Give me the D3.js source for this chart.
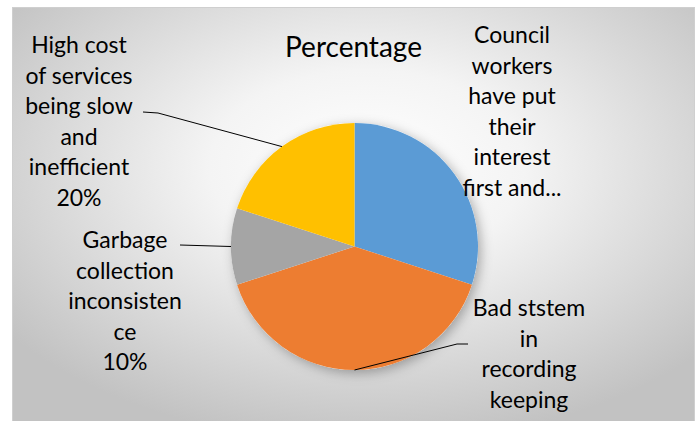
<!DOCTYPE html>
<html>
<head>
<meta charset="utf-8">
<script src="https://cdn.jsdelivr.net/npm/d3@7"></script>
<style>
  html, body { margin: 0; padding: 0; background: #fff; }
  svg { display: block; }
  text { font-family: Lato, "Open Sans", sans-serif; fill: #000; }
</style>
</head>
<body>
<svg id="chart" width="700" height="421"></svg>
<script>
const title = "Percentage";
const categories = [
    "Council workers have put their interest first and...",
    "Bad ststem in recording keeping",
    "Garbage collection inconsistence",
    "High cost of services being slow and inefficient",
];
const values = [30, 40, 10, 20];
const colors = ["#5B9BD5", "#ED7D31", "#A5A5A5", "#FFC000"];
// label text as wrapped in the picture
const labelLines = [
    ["Council", "workers", "have put", "their", "interest", "first and..."],
    ["Bad ststem", "in", "recording", "keeping"],
    ["Garbage", "collection", "inconsisten", "ce", "10%"],
    ["High cost", "of services", "being slow", "and", "inefficient", "20%"],
];

const width = 700, height = 421;
const cx = 354.5, cy = 246.5, radius = 123.5;
const fontSize = 23, lineH = 30.6;

// where each label sits (center x, first baseline) and where its leader ends
const labelLayout = [
    { x: 512, y: 43, leader: null },
    { x: 529, y: 316, leader: [[468, 344], [457, 344]] },
    { x: 125, y: 248, leader: [[180, 245]] },
    { x: 79, y: 53, leader: [[143, 112], [158, 113]] },
];

const svg = d3.select("#chart");
const defs = svg.append("defs");

const bg = defs.append("radialGradient")
    .attr("id", "bg")
    .attr("cx", "52%").attr("cy", "38%").attr("r", "66%");
bg.append("stop").attr("offset", "0%").attr("stop-color", "#ffffff");
bg.append("stop").attr("offset", "35%").attr("stop-color", "#f4f4f4");
bg.append("stop").attr("offset", "100%").attr("stop-color", "#c2c2c2");

const shadow = defs.append("filter")
    .attr("id", "shadow")
    .attr("x", "-30%").attr("y", "-30%").attr("width", "160%").attr("height", "160%");
shadow.append("feDropShadow")
    .attr("dx", 3).attr("dy", 3)
    .attr("stdDeviation", 6)
    .attr("flood-color", "#000")
    .attr("flood-opacity", 0.3);

// Chart area
svg.append("rect")
    .attr("x", 12.5).attr("y", 7.5)
    .attr("width", 682).attr("height", 420)
    .attr("fill", "url(#bg)")
    .attr("stroke", "#cfcfcf")
    .attr("stroke-width", 1);

// Title
svg.append("text")
    .attr("x", 353.5).attr("y", 57)
    .attr("text-anchor", "middle")
    .attr("font-size", 28)
    .text(title);

const pie = d3.pie().sort(null).value((d) => d);
const arcs = pie(values);
const arc = d3.arc().innerRadius(0).outerRadius(radius);

const g = svg.append("g").attr("transform", `translate(${cx},${cy})`);

g.append("circle")
    .attr("r", radius)
    .attr("fill", "#fff")
    .attr("filter", "url(#shadow)");

g.selectAll("path")
    .data(arcs)
    .join("path")
    .attr("d", arc)
    .attr("fill", (d, i) => colors[i]);

// Leader lines from slice mid-edge to label
const edgePoint = (d) => {
    const a = (d.startAngle + d.endAngle) / 2;
    return [cx + radius * Math.sin(a), cy - radius * Math.cos(a)];
};

svg.append("g")
    .selectAll("path")
    .data(arcs.filter((d, i) => labelLayout[i].leader))
    .join("path")
    .attr("d", (d) => d3.line()([edgePoint(d), ...labelLayout[d.index].leader.slice().reverse()]))
    .attr("fill", "none")
    .attr("stroke", "#000")
    .attr("stroke-width", 1);

// Labels
const labels = svg.append("g")
    .selectAll("text")
    .data(labelLines)
    .join("text")
    .attr("text-anchor", "middle")
    .attr("font-size", fontSize)
    .attr("x", (d, i) => labelLayout[i].x)
    .attr("y", (d, i) => labelLayout[i].y);

labels.selectAll("tspan")
    .data((d, i) => d.map((line) => ({ line, i })))
    .join("tspan")
    .attr("x", (d) => labelLayout[d.i].x)
    .attr("dy", (d, j) => (j === 0 ? 0 : lineH))
    .text((d) => d.line);
</script>
</body>
</html>
